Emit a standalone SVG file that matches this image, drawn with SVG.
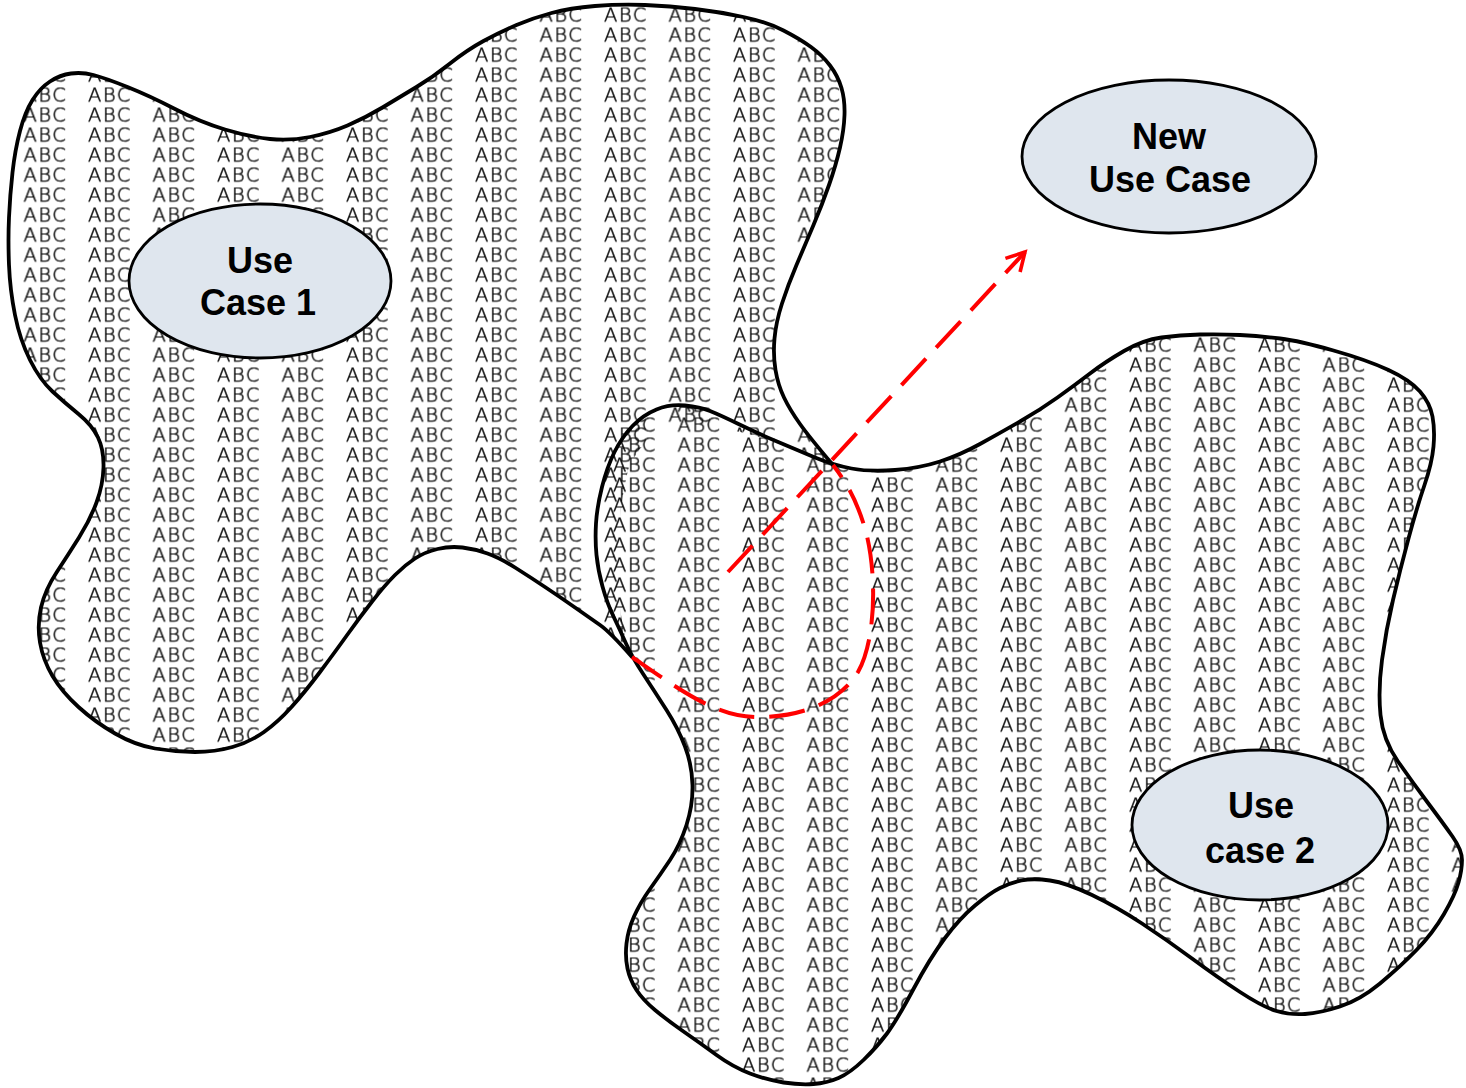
<svg xmlns="http://www.w3.org/2000/svg" width="1466" height="1088" viewBox="0 0 1466 1088">
  <style>
    .abc { font-family: "DejaVu Sans", "Liberation Sans", sans-serif; font-size: 19.5px; font-weight: 200; letter-spacing: 1.5px; fill: #000; stroke: #000; stroke-width: 0.45; }
    .outline { fill: none; stroke: #000; stroke-width: 3.8; stroke-linejoin: round; stroke-linecap: round; }
    .node-shape { fill: #dfe6ee; stroke: #000; stroke-width: 2.8; }
    .label { font-family: "Liberation Sans", Arial, sans-serif; font-weight: bold; font-size: 36px; fill: #000; text-anchor: middle; }
    .dash { fill: none; stroke: #f00; stroke-width: 4; stroke-dasharray: 36 15; }
  </style>
  <defs>
    <!-- text-texture fills for the two regions -->
    <pattern id="abc1" patternUnits="userSpaceOnUse" x="23.5" y="7.5" width="64.5" height="20">
      <text class="abc" x="0" y="14.2">ABC</text>
    </pattern>
    <pattern id="abc2" patternUnits="userSpaceOnUse" x="613" y="17.5" width="64.5" height="20">
      <text class="abc" x="0" y="14.2">ABC</text>
    </pattern>
    <marker id="open-arrow" viewBox="0 0 12 12" refX="10" refY="6" markerWidth="6" markerHeight="6" orient="auto" markerUnits="strokeWidth">
      <path d="M1,1 L10,6 L1,11" fill="none" stroke="#f00" stroke-width="1.8" stroke-linejoin="miter"/>
    </marker>
  </defs>

  <rect width="1466" height="1088" fill="#fff"/>

  <!-- region 1 (upper left) -->
  <g id="region-1">
    <path fill="url(#abc1)" d="M632,657 Q610,632 600,625 Q590,618 575,607.5 Q560,597 545,587 Q530,577 515,567.5 Q500,558 487.5,553.5 Q475,549 462.5,547.5 Q450,546 437.5,549 Q425,552 415,558.5 Q405,565 395,575 Q385,585 372.5,601 Q360,617 347.5,634.5 Q335,652 320,672 Q305,692 291.5,707 Q278,722 264,732 Q250,742 232.5,747 Q215,752 195,752 Q175,752 155,748.5 Q135,745 115,733.5 Q95,722 78.5,707 Q62,692 52.5,676 Q43,660 40,642.5 Q37,625 41,607.5 Q45,590 56.5,572.5 Q68,555 79,537.5 Q90,520 96.5,502.5 Q103,485 103.5,467.5 Q104,450 98,437.5 Q92,425 78.5,414 Q65,403 52.5,391.5 Q40,380 30,360 Q20,340 15,315 Q10,290 9,265 Q8,240 9,217.5 Q10,195 12.5,172.5 Q15,150 20,131 Q25,112 32.5,100 Q40,88 50,81.5 Q60,75 71,73.5 Q82,72 93.5,75 Q105,78 127.5,87 Q150,96 175,109 Q200,122 225,129.5 Q250,137 270,139 Q290,141 310,137 Q330,133 347.5,125.5 Q365,118 382.5,107.5 Q400,97 416.5,87 Q433,77 450,63.5 Q467,50 483.5,41 Q500,32 516.5,25 Q533,18 551.5,13 Q570,8 595,6 Q620,4 645,5 Q670,6 695,9 Q720,12 743.5,17 Q767,22 783.5,30.5 Q800,39 811,47 Q822,55 830,65.5 Q838,76 841.5,88 Q845,100 844.5,115 Q844,130 840,147.5 Q836,165 829,185 Q822,205 813.5,225 Q805,245 796.5,265 Q788,285 782,303.5 Q776,322 774.5,338.5 Q773,355 775.5,370 Q778,385 784,397.5 Q790,410 800,424 Q810,438 833,465 Q760,430 690,424 Q645,427 628,470 Q616,520 618,580 Q620,630 632,657 Z"/>
    <path class="outline" d="M632,657 Q610,632 600,625 Q590,618 575,607.5 Q560,597 545,587 Q530,577 515,567.5 Q500,558 487.5,553.5 Q475,549 462.5,547.5 Q450,546 437.5,549 Q425,552 415,558.5 Q405,565 395,575 Q385,585 372.5,601 Q360,617 347.5,634.5 Q335,652 320,672 Q305,692 291.5,707 Q278,722 264,732 Q250,742 232.5,747 Q215,752 195,752 Q175,752 155,748.5 Q135,745 115,733.5 Q95,722 78.5,707 Q62,692 52.5,676 Q43,660 40,642.5 Q37,625 41,607.5 Q45,590 56.5,572.5 Q68,555 79,537.5 Q90,520 96.5,502.5 Q103,485 103.5,467.5 Q104,450 98,437.5 Q92,425 78.5,414 Q65,403 52.5,391.5 Q40,380 30,360 Q20,340 15,315 Q10,290 9,265 Q8,240 9,217.5 Q10,195 12.5,172.5 Q15,150 20,131 Q25,112 32.5,100 Q40,88 50,81.5 Q60,75 71,73.5 Q82,72 93.5,75 Q105,78 127.5,87 Q150,96 175,109 Q200,122 225,129.5 Q250,137 270,139 Q290,141 310,137 Q330,133 347.5,125.5 Q365,118 382.5,107.5 Q400,97 416.5,87 Q433,77 450,63.5 Q467,50 483.5,41 Q500,32 516.5,25 Q533,18 551.5,13 Q570,8 595,6 Q620,4 645,5 Q670,6 695,9 Q720,12 743.5,17 Q767,22 783.5,30.5 Q800,39 811,47 Q822,55 830,65.5 Q838,76 841.5,88 Q845,100 844.5,115 Q844,130 840,147.5 Q836,165 829,185 Q822,205 813.5,225 Q805,245 796.5,265 Q788,285 782,303.5 Q776,322 774.5,338.5 Q773,355 775.5,370 Q778,385 784,397.5 Q790,410 800,424 Q810,438 833,465"/>
  </g>

  <!-- region 2 (lower right) -->
  <g id="region-2">
    <path fill="url(#abc2)" d="M815,457.5 Q833,465 851.5,468.5 Q870,472 895,470 Q920,468 940,461.5 Q960,455 980,444 Q1000,433 1020,421.5 Q1040,410 1057.5,397.5 Q1075,385 1090,373.5 Q1105,362 1124,351 Q1143,340 1161.5,337.5 Q1180,335 1200,334.5 Q1220,334 1240,335 Q1260,336 1280,338.5 Q1300,341 1333.5,350.5 Q1367,360 1388.5,370 Q1410,380 1420,391.5 Q1430,403 1432.5,416.5 Q1435,430 1433.5,446.5 Q1432,463 1424.5,485 Q1417,507 1408.5,538.5 Q1400,570 1393,600 Q1386,630 1382,660 Q1378,690 1380.5,715 Q1383,740 1398,761.5 Q1413,783 1428,803 Q1443,823 1452.5,836.5 Q1462,850 1462,860 Q1462,870 1458.5,882.5 Q1455,895 1444,914 Q1433,933 1416.5,950 Q1400,967 1380,983.5 Q1360,1000 1340,1006.5 Q1320,1013 1305,1014 Q1290,1015 1276.5,1011 Q1263,1007 1240,992 Q1217,977 1192,958.5 Q1167,940 1142,923.5 Q1117,907 1092,895 Q1067,883 1050,880.5 Q1033,878 1021.5,880.5 Q1010,883 1000,888 Q990,893 975,905.5 Q960,918 945,938 Q930,958 913.5,989 Q897,1020 887,1033.5 Q877,1047 863.5,1060 Q850,1073 838.5,1078 Q827,1083 813.5,1084 Q800,1085 783.5,1082.5 Q767,1080 750,1073.5 Q733,1067 716.5,1055 Q700,1043 683.5,1031.5 Q667,1020 655,1010 Q643,1000 636.5,990 Q630,980 627.5,968.5 Q625,957 626.5,943.5 Q628,930 634,916.5 Q640,903 650,889 Q660,875 670,860 Q680,845 686.5,825 Q693,805 692.5,785 Q692,765 685,746.5 Q678,728 666.5,710 Q655,692 643.5,674.5 Q632,657 626,643.5 Q620,630 613.5,616.5 Q607,603 602.5,586.5 Q598,570 596.5,555 Q595,540 596,523.5 Q597,507 602,487 Q607,467 614.5,452 Q622,437 632.5,426 Q643,415 656.5,409.5 Q670,404 685,405.5 Q700,407 710,411 Q720,415 738.5,424 Q757,433 777,441.5 Q797,450 815,457.5 Z" stroke="#000" stroke-width="3.8" stroke-linejoin="round"/>
  </g>

  <!-- extension region and its link to the new use case -->
  <g id="connectors">
    <path id="new-region-boundary" class="dash" d="M632,657 C680,690 715,716 755,717 C800,718 840,702 858,672 C876,640 877,575 866,532 C857,500 846,482 833,465"/>
    <path id="extend-link" class="dash" d="M728,572 L1025,252" marker-end="url(#open-arrow)"/>
  </g>

  <g id="use-case-1">
    <ellipse class="node-shape" cx="260" cy="281" rx="131" ry="77"/>
    <text class="label" x="260" y="273">Use</text>
    <text class="label" x="258" y="315">Case 1</text>
  </g>

  <g id="new-use-case">
    <ellipse class="node-shape" cx="1169" cy="156.5" rx="147" ry="76.5"/>
    <text class="label" x="1169" y="149">New</text>
    <text class="label" x="1170" y="192">Use Case</text>
  </g>

  <g id="use-case-2">
    <ellipse class="node-shape" cx="1260" cy="825" rx="128" ry="75"/>
    <text class="label" x="1261" y="818">Use</text>
    <text class="label" x="1260" y="863">case 2</text>
  </g>
</svg>
